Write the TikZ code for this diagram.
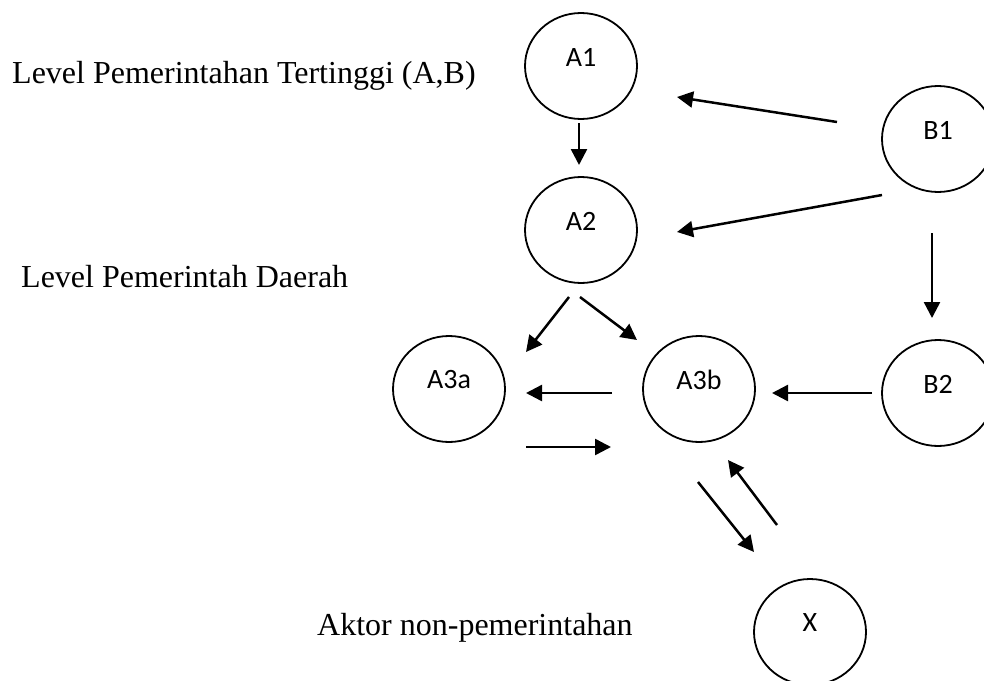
\documentclass[tikz,border=0pt]{standalone}
\usepackage{fontspec}
\setmainfont{Liberation Serif}
\newfontfamily\labfont{Carlito}
\usetikzlibrary{shapes.geometric,arrows.meta}
\begin{document}
\begin{tikzpicture}[x=1pt,y=-1pt,
  blob/.style={ellipse, draw, line width=1.8pt, minimum width=112pt, minimum height=106pt, inner sep=0pt,
    label={[font=\labfont\fontsize{28}{32}\selectfont, yshift=9pt]center:#1}},
  levtext/.style={anchor=base west, inner sep=0pt, font=\fontsize{32}{38}\selectfont},
  conn/.style={line width=2.5pt, -{Triangle[length=16pt,width=16pt]}}]
\useasboundingbox (0,0) rectangle (984,680);
% nodes
\node[blob=A1] (A1) at (581,66) {};
\node[blob=A2] (A2) at (581,230) {};
\node[blob=B1] (B1) at (938,139) {};
\node[blob=B2] (B2) at (938,393) {};
\node[blob=A3a] (A3a) at (449,389) {};
\node[blob=A3b] (A3b) at (699,389) {};
\node[blob=X] (X) at (810,632) {};
% texts
\node[levtext] (t1) at (12,83) {Level Pemerintahan Tertinggi (A,B)};
\node[levtext] (t2) at (21,287) {Level Pemerintah Daerah};
\node[levtext] (t3) at (317,635) {Aktor non-pemerintahan};
% connector ends
\coordinate (a1a2s) at (579,123); \coordinate (a1a2e) at (579,165);
\coordinate (b1a1s) at (837,122); \coordinate (b1a1e) at (677,97);
\coordinate (b1a2s) at (882,195); \coordinate (b1a2e) at (677,232);
\coordinate (b1b2s) at (932,233); \coordinate (b1b2e) at (932,318);
\coordinate (a2as) at (569,297); \coordinate (a2ae) at (526,352);
\coordinate (a2bs) at (580,297); \coordinate (a2be) at (637,340);
\coordinate (b2bs) at (872,393); \coordinate (b2be) at (772,393);
\coordinate (bas) at (612,393); \coordinate (bae) at (526,393);
\coordinate (abs) at (526,447); \coordinate (abe) at (611,447);
\coordinate (bxs) at (698,482); \coordinate (bxe) at (754,552);
\coordinate (xbs) at (777,525); \coordinate (xbe) at (728,460);
% connectors
\draw[conn] (a1a2s) -- (a1a2e);
\draw[conn] (b1a1s) -- (b1a1e);
\draw[conn] (b1a2s) -- (b1a2e);
\draw[conn] (b1b2s) -- (b1b2e);
\draw[conn] (a2as) -- (a2ae);
\draw[conn] (a2bs) -- (a2be);
\draw[conn] (b2bs) -- (b2be);
\draw[conn] (bas) -- (bae);
\draw[conn] (abs) -- (abe);
\draw[conn] (bxs) -- (bxe);
\draw[conn] (xbs) -- (xbe);
\end{tikzpicture}
\end{document}
